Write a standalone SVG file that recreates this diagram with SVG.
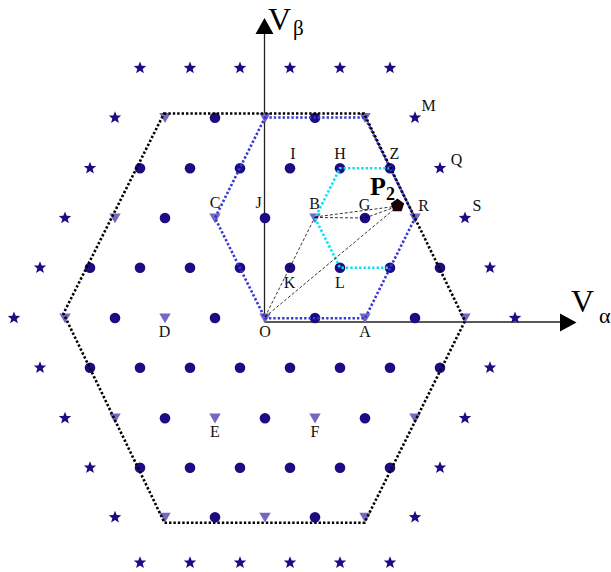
<svg xmlns="http://www.w3.org/2000/svg" width="611" height="572" viewBox="0 0 611 572">
<style>
  .lbl { font-family: "Liberation Serif", "Times New Roman", serif; font-size: 16px; fill: #111; text-anchor: middle; }
  .axl { font-family: "Liberation Serif", "Times New Roman", serif; fill: #000; }
  .axis { stroke: #222; stroke-width: 1.3; fill: none; }
  .hexk { fill: none; stroke: #000; stroke-width: 2.6; stroke-dasharray: 2.4 2; }
  .hexb { fill: none; stroke: #3838d2; stroke-width: 2.6; stroke-dasharray: 2.4 2; }
  .hexc { fill: none; stroke: #10e0ee; stroke-width: 2.6; stroke-dasharray: 2.4 2; }
  .dash { fill: none; stroke: #000; stroke-width: 0.8; stroke-dasharray: 3 2; }
</style>
<defs>
  <circle id="dot" cx="0" cy="0" r="5.3" fill="#1c0c84"/>
  <polygon id="tri" points="-5.7,-4.6 5.7,-4.6 0,5.2" fill="#7468c2"/>
  <polygon id="star" points="0,-6.5 1.7,-2.2 6.2,-2.1 2.7,0.9 3.9,5.3 0,2.8 -3.9,5.3 -2.7,0.9 -6.2,-2.1 -1.7,-2.2" fill="#1c0c84"/>
</defs>
<rect width="611" height="572" fill="#fff"/>

<g id="axes">
  <line class="axis" x1="264.5" y1="322" x2="264.5" y2="33"/>
  <polygon points="264.5,18 255.5,34 273.5,34" fill="#000"/>
  <line class="axis" x1="264.5" y1="322" x2="561" y2="322"/>
  <polygon points="576.5,322.5 560,313.5 560,331.5" fill="#000"/>
  <text class="axl" x="268" y="29.5" font-size="32">V<tspan font-size="21" dx="2" dy="5">β</tspan></text>
  <text class="axl" x="571" y="312" font-size="32">V<tspan font-size="22" dx="5" dy="11">α</tspan></text>
</g>

<g id="lattice">
  <use href="#star" x="140" y="68"/><use href="#star" x="190" y="68"/><use href="#star" x="240" y="68"/>
  <use href="#star" x="290" y="68"/><use href="#star" x="340" y="68"/><use href="#star" x="390" y="68"/>
  <use href="#star" x="115" y="117.7"/><use href="#tri" x="165" y="117.7"/><use href="#dot" x="215" y="117.7"/>
  <use href="#tri" x="265" y="117.7"/><use href="#dot" x="315" y="117.7"/><use href="#tri" x="365" y="117.7"/>
  <use href="#star" x="90" y="168.2"/><use href="#dot" x="140" y="168.2"/><use href="#dot" x="190" y="168.2"/>
  <use href="#dot" x="240" y="168.2"/>
  <use href="#star" x="65" y="218"/><use href="#tri" x="115" y="218"/><use href="#dot" x="165" y="218"/>
  <use href="#star" x="40" y="267.7"/><use href="#dot" x="90" y="267.7"/><use href="#dot" x="140" y="267.7"/>
  <use href="#dot" x="190" y="267.7"/><use href="#dot" x="240" y="267.7"/><use href="#dot" x="390" y="267.7"/>
  <use href="#dot" x="440" y="267.7"/><use href="#star" x="490" y="267.7"/>
  <use href="#star" x="14" y="318"/><use href="#tri" x="65" y="318"/><use href="#dot" x="115" y="318"/>
  <use href="#dot" x="215" y="318"/><use href="#dot" x="315" y="318"/><use href="#dot" x="415" y="318"/>
  <use href="#tri" x="465" y="318"/><use href="#star" x="515" y="318"/>
  <use href="#star" x="40" y="367.7"/><use href="#dot" x="90" y="367.7"/><use href="#dot" x="140" y="367.7"/>
  <use href="#dot" x="190" y="367.7"/><use href="#dot" x="240" y="367.7"/><use href="#dot" x="290" y="367.7"/>
  <use href="#dot" x="340" y="367.7"/><use href="#dot" x="390" y="367.7"/><use href="#dot" x="440" y="367.7"/>
  <use href="#star" x="490" y="367.7"/>
  <use href="#star" x="65" y="418.2"/><use href="#tri" x="115" y="418.2"/><use href="#dot" x="165" y="418.2"/>
  <use href="#dot" x="265" y="418.2"/><use href="#dot" x="365" y="418.2"/><use href="#tri" x="415" y="418.2"/>
  <use href="#star" x="465" y="418.2"/>
  <use href="#star" x="90" y="467.7"/><use href="#dot" x="140" y="467.7"/><use href="#dot" x="190" y="467.7"/>
  <use href="#dot" x="240" y="467.7"/><use href="#dot" x="290" y="467.7"/><use href="#dot" x="340" y="467.7"/>
  <use href="#dot" x="390" y="467.7"/><use href="#star" x="440" y="467.7"/>
  <use href="#star" x="115" y="517.3"/><use href="#tri" x="165" y="517.3"/><use href="#dot" x="215" y="517.3"/>
  <use href="#tri" x="265" y="517.3"/><use href="#dot" x="315" y="517.3"/><use href="#tri" x="365" y="517.3"/>
  <use href="#star" x="415" y="517.3"/>
  <use href="#star" x="140" y="562.7"/><use href="#star" x="190" y="562.7"/><use href="#star" x="240" y="562.7"/>
  <use href="#star" x="290" y="562.7"/><use href="#star" x="340" y="562.7"/><use href="#star" x="390" y="562.7"/>
</g>

<g id="node-M"><use href="#star" x="415" y="117.7"/><text class="lbl" x="428.5" y="111">M</text></g>
<g id="node-Q"><use href="#star" x="440" y="168.2"/><text class="lbl" x="456.5" y="165">Q</text></g>
<g id="node-S"><use href="#star" x="465" y="218"/><text class="lbl" x="477" y="211">S</text></g>
<g id="node-I"><use href="#dot" x="290" y="168.2"/><text class="lbl" x="293" y="158.5">I</text></g>
<g id="node-H"><use href="#dot" x="340" y="168.2"/><text class="lbl" x="340" y="158.5">H</text></g>
<g id="node-Z"><use href="#dot" x="390" y="168.2"/><text class="lbl" x="394.5" y="158.5">Z</text></g>
<g id="node-C"><use href="#tri" x="215" y="218"/><text class="lbl" x="215" y="208">C</text></g>
<g id="node-J"><use href="#dot" x="265" y="218"/><text class="lbl" x="258.5" y="208">J</text></g>
<g id="node-B"><use href="#tri" x="315" y="218"/><text class="lbl" x="314.5" y="208.5">B</text></g>
<g id="node-G"><use href="#dot" x="365" y="218"/><text class="lbl" x="364.5" y="210">G</text></g>
<g id="node-R"><use href="#tri" x="415" y="218"/><text class="lbl" x="423.5" y="211">R</text></g>
<g id="node-K"><use href="#dot" x="290" y="267.7"/><text class="lbl" x="289.5" y="288">K</text></g>
<g id="node-L"><use href="#dot" x="340" y="267.7"/><text class="lbl" x="340" y="288">L</text></g>
<g id="node-D"><use href="#tri" x="165" y="318"/><text class="lbl" x="164.5" y="337">D</text></g>
<g id="node-O"><use href="#tri" x="265" y="318"/><text class="lbl" x="265" y="337">O</text></g>
<g id="node-A"><use href="#tri" x="365" y="318"/><text class="lbl" x="365" y="337">A</text></g>
<g id="node-E"><use href="#tri" x="215" y="418.2"/><text class="lbl" x="215" y="437">E</text></g>
<g id="node-F"><use href="#tri" x="315" y="418.2"/><text class="lbl" x="315" y="437">F</text></g>

<g id="connectors">
  <polyline class="hexc" points="390,168.2 340,168.2 315,218 340,267.7 390,267.7"/>
  <polygon class="hexb" points="265,117.5 365,117.5 415,218 365,318.3 265,318.3 215,218"/>
  <polygon class="hexk" points="164,113.5 364,113.5 465,321 364.5,522.7 164.5,522.7 63.5,313.5"/>
  <line class="dash" x1="265" y1="317" x2="315" y2="217"/>
  <line class="dash" x1="265" y1="317" x2="398" y2="206"/>
  <line class="dash" x1="315" y1="217" x2="398" y2="206"/>
  <line class="dash" x1="315" y1="217.5" x2="365" y2="218"/>
  <line class="dash" x1="365" y1="218" x2="398" y2="206"/>
</g>

<g id="node-P2">
  <polygon points="397.5,198.5 404.2,203.4 401.6,211.3 393.4,211.3 390.8,203.4" fill="#1a0208"/>
  <text class="axl" x="370" y="195" font-size="26" font-weight="bold">P<tspan font-size="18" dy="5">2</tspan></text>
</g>
</svg>
